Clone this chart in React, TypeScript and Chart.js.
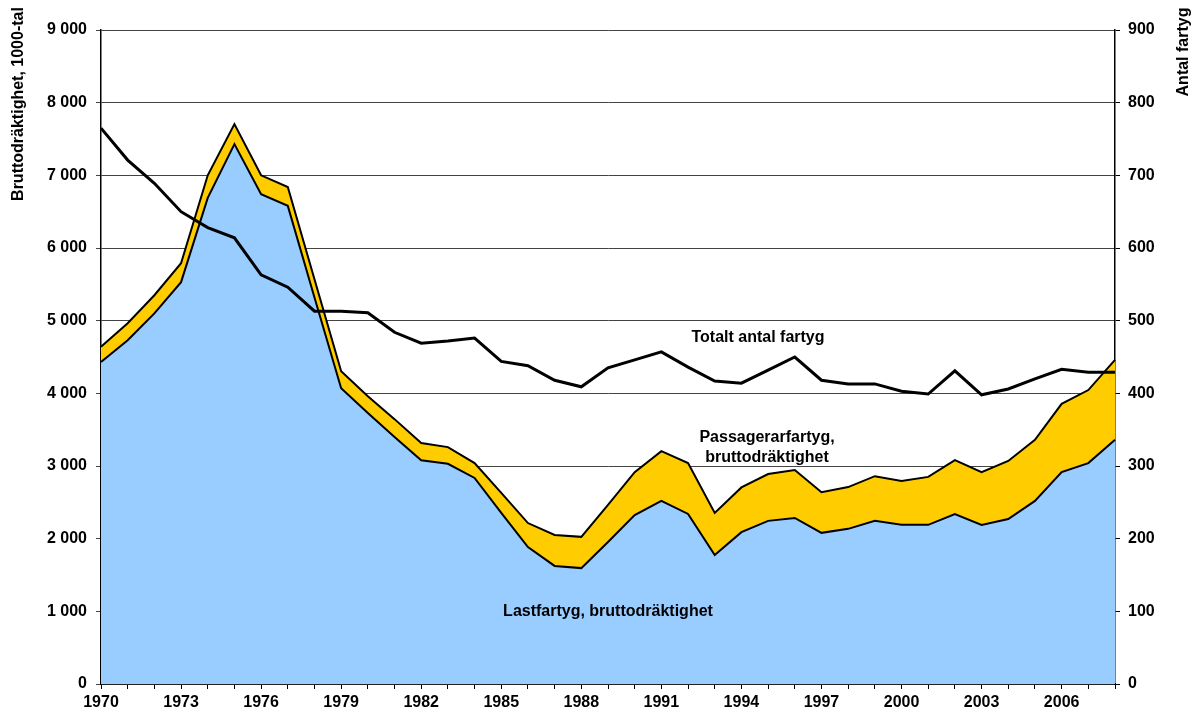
import { useEffect, useRef } from "react";
import { Chart, registerables } from "chart.js";

Chart.register(...registerables);

const years = [
  "1970", "1971", "1972", "1973", "1974", "1975", "1976", "1977", "1978", "1979",
  "1980", "1981", "1982", "1983", "1984", "1985", "1986", "1987", "1988", "1989",
  "1990", "1991", "1992", "1993", "1994", "1995", "1996", "1997", "1998", "1999",
  "2000", "2001", "2002", "2003", "2004", "2005", "2006", "2007", "2008",
];

// Lastfartyg, bruttodräktighet (1000-tal)
const cargoGT = [
  4430, 4730, 5100, 5530, 6690, 7430, 6740, 6580, 5320, 4070,
  3730, 3400, 3080, 3030, 2835, 2355, 1885, 1625, 1595, 1955,
  2325, 2520, 2340, 1775, 2090, 2245, 2285, 2080, 2135, 2245,
  2190, 2190, 2340, 2190, 2270, 2520, 2915, 3040, 3360,
];

// Passagerarfartyg, bruttodräktighet (1000-tal)
const passengerGT = [
  210, 235, 250, 260, 310, 275, 260, 260, 250, 235,
  230, 245, 235, 230, 205, 275, 330, 425, 430, 510,
  590, 685, 700, 580, 615, 645, 660, 560, 575, 615,
  605, 660, 740, 725, 800, 840, 940, 1005, 1100,
];

// Totalt antal fartyg
const shipCount = [
  765, 721, 689, 650, 628, 614, 563, 546, 513, 513,
  511, 484, 469, 472, 476, 444, 438, 418, 409, 435,
  446, 457, 436, 417, 414, 432, 450, 418, 413, 413,
  403, 399, 431, 398, 406, 420, 433, 429, 429,
];

const leftTitle = "Bruttodräktighet, 1000-tal";
const rightTitle = "Antal fartyg";
const labelShips = "Totalt antal fartyg";
const labelPassenger = ["Passagerarfartyg,", "bruttodräktighet"];
const labelCargo = "Lastfartyg, bruttodräktighet";

const FONT = '"Liberation Sans", Arial, Helvetica, sans-serif';

const fmt = (v: number) => String(v).replace(/\B(?=(\d{3})+(?!\d))/g, " ");

const textPlugin = {
  id: "texts",
  afterDraw(chart: any) {
    const ctx = chart.ctx as CanvasRenderingContext2D;
    ctx.save();
    ctx.fillStyle = "#000";
    ctx.font = `bold 16px ${FONT}`;
    ctx.textAlign = "center";
    ctx.textBaseline = "middle";
    ctx.fillText(labelShips, 758, 338);
    ctx.fillText(labelPassenger[0], 767, 438);
    ctx.fillText(labelPassenger[1], 767, 458);
    ctx.fillText(labelCargo, 608, 612);

    ctx.save();
    ctx.translate(19, 104);
    ctx.rotate(-Math.PI / 2);
    ctx.fillText(leftTitle, 0, 0);
    ctx.restore();
    ctx.save();
    ctx.translate(1184, 52);
    ctx.rotate(-Math.PI / 2);
    ctx.fillText(rightTitle, 0, 0);
    ctx.restore();
    ctx.restore();
  },
};

export default function App() {
  const ref = useRef<HTMLCanvasElement | null>(null);

  useEffect(() => {
    if (!ref.current) return;
    const tickFont = { family: FONT, size: 16, weight: "bold" as const };
    const chart = new Chart(ref.current, {
      type: "line",
      data: {
        labels: years,
        datasets: [
          {
            label: "Totalt antal fartyg",
            data: shipCount,
            yAxisID: "y1",
            borderColor: "#000",
            borderWidth: 3,
            pointRadius: 0,
            fill: false,
            tension: 0,
          },
          {
            label: "Lastfartyg, bruttodräktighet",
            data: cargoGT,
            yAxisID: "y",
            stack: "gt",
            borderColor: "#000",
            borderWidth: 2,
            backgroundColor: "#99CCFF",
            pointRadius: 0,
            fill: "origin",
            tension: 0,
          },
          {
            label: "Passagerarfartyg, bruttodräktighet",
            data: passengerGT,
            yAxisID: "y",
            stack: "gt",
            borderColor: "#000",
            borderWidth: 2,
            backgroundColor: "#FFCC00",
            pointRadius: 0,
            fill: "-1",
            tension: 0,
          },
        ],
      },
      options: {
        responsive: false,
        animation: false,
        layout: { padding: { top: 30, left: 0, right: 0, bottom: 0 } },
        plugins: {
          legend: { display: false },
          tooltip: { enabled: false },
        },
        scales: {
          x: {
            offset: false,
            grid: {
              display: true,
              drawOnChartArea: false,
              drawTicks: true,
              tickLength: 5,
              color: "#000",
            },
            border: { display: true, color: "#000", width: 1.5 },
            ticks: {
              autoSkip: false,
              maxRotation: 0,
              minRotation: 0,
              padding: 4,
              color: "#000",
              font: tickFont,
              callback: (_v: any, i: number) => (i % 3 === 0 ? years[i] : ""),
            },
            afterFit: (s: any) => {
              s.height = 36;
            },
          },
          y: {
            position: "left",
            stacked: true,
            min: 0,
            max: 9000,
            grid: {
              color: "#444",
              lineWidth: 1,
              drawTicks: true,
              tickLength: 5,
            },
            border: { display: true, color: "#000", width: 1.5 },
            ticks: {
              stepSize: 1000,
              padding: 9,
              color: "#000",
              font: tickFont,
              callback: (v: any) => fmt(Number(v)),
            },
            afterFit: (s: any) => {
              s.width = 101;
            },
          },
          y1: {
            position: "right",
            stacked: false,
            min: 0,
            max: 900,
            grid: {
              drawOnChartArea: false,
              drawTicks: true,
              tickLength: 5,
              color: "#000",
            },
            border: { display: true, color: "#000", width: 1.5 },
            ticks: {
              stepSize: 100,
              padding: 8,
              color: "#000",
              font: tickFont,
            },
            afterFit: (s: any) => {
              s.width = 85;
            },
          },
        },
      },
      plugins: [textPlugin],
    });
    return () => chart.destroy();
  }, []);

  return (
    <div style={{ position: "absolute", left: 0, top: 0, width: 1200, height: 720, background: "#fff" }}>
      <canvas ref={ref} width={1200} height={720} style={{ display: "block" }} />
    </div>
  );
}
